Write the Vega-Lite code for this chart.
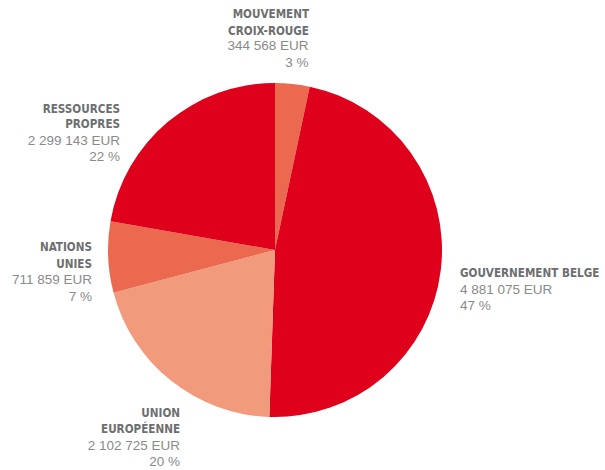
{
  "$schema": "https://vega.github.io/schema/vega-lite/v6.json",
  "width": 550,
  "height": 440,
  "autosize": {"type": "none"},
  "padding": {"left": 0, "top": 30, "right": 55, "bottom": 0},
  "background": "white",
  "view": {"stroke": null},
  "data": {
    "values": [
      {"order": 1, "key": "CR", "source": "Mouvement Croix-Rouge", "amount": 344568, "name": "MOUVEMENT\nCROIX-ROUGE", "detail": "344 568 EUR\n3 %"},
      {"order": 2, "key": "GB", "source": "Gouvernement belge", "amount": 4881075, "name": "GOUVERNEMENT BELGE", "detail": "4 881 075 EUR\n\u200a\u2002\u200a47 %"},
      {"order": 3, "key": "UE", "source": "Union européenne", "amount": 2102725, "name": "UNION\nEUROPÉENNE", "detail": "2 102 725 EUR\n20 %"},
      {"order": 4, "key": "NU", "source": "Nations Unies", "amount": 711859, "name": "NATIONS\nUNIES", "detail": "711 859 EUR\n7 %"},
      {"order": 5, "key": "RP", "source": "Ressources propres", "amount": 2299143, "name": "RESSOURCES\nPROPRES", "detail": "2 299 143 EUR\n22 %"}
    ]
  },
  "encoding": {
    "theta": {"field": "amount", "type": "quantitative", "stack": true},
    "order": {"field": "order", "type": "quantitative"}
  },
  "layer": [
    {
      "mark": {"type": "arc", "outerRadius": 167},
      "encoding": {
        "color": {
          "field": "source",
          "type": "nominal",
          "scale": {
            "domain": ["Mouvement Croix-Rouge", "Gouvernement belge", "Union européenne", "Nations Unies", "Ressources propres"],
            "range": ["#EB6A4F", "#DF001C", "#F19A7C", "#EB6A4F", "#DF001C"]
          },
          "legend": null
        }
      }
    },
    {
      "mark": {"type": "text", "radius": 180, "align": "right", "baseline": "top", "dx": 15.2, "dy": -61.7, "lineBreak": "\n", "lineHeight": 16.5, "font": "DejaVu Sans Condensed", "fontWeight": "bold", "fontSize": 11.6, "fill": "#6d6e70"},
      "encoding": {"text": {"condition": {"test": "datum.key === 'CR'", "field": "name", "type": "nominal"}, "value": ""}}
    },
    {
      "mark": {"type": "text", "radius": 180, "align": "right", "baseline": "top", "dx": 14.7, "dy": -31.5, "lineBreak": "\n", "lineHeight": 16.2, "font": "Liberation Sans", "fontSize": 13.5, "fill": "#8a8a8a"},
      "encoding": {"text": {"condition": {"test": "datum.key === 'CR'", "field": "detail", "type": "nominal"}, "value": ""}}
    },
    {
      "mark": {"type": "text", "radius": 180, "align": "left", "baseline": "top", "dx": 6.3, "dy": -4.1, "lineBreak": "\n", "lineHeight": 16.5, "font": "DejaVu Sans Condensed", "fontWeight": "bold", "fontSize": 11.6, "fill": "#6d6e70"},
      "encoding": {"text": {"condition": {"test": "datum.key === 'GB'", "field": "name", "type": "nominal"}, "value": ""}}
    },
    {
      "mark": {"type": "text", "radius": 180, "align": "left", "baseline": "top", "dx": 6.3, "dy": 11.0, "lineBreak": "\n", "lineHeight": 16.5, "font": "Liberation Sans", "fontSize": 13.5, "fill": "#8a8a8a"},
      "encoding": {"text": {"condition": {"test": "datum.key === 'GB'", "field": "detail", "type": "nominal"}, "value": ""}}
    },
    {
      "mark": {"type": "text", "radius": 180, "align": "right", "baseline": "top", "dx": 17.2, "dy": 16.9, "lineBreak": "\n", "lineHeight": 16.2, "font": "DejaVu Sans Condensed", "fontWeight": "bold", "fontSize": 11.6, "fill": "#6d6e70"},
      "encoding": {"text": {"condition": {"test": "datum.key === 'UE'", "field": "name", "type": "nominal"}, "value": ""}}
    },
    {
      "mark": {"type": "text", "radius": 180, "align": "right", "baseline": "top", "dx": 17.2, "dy": 48.0, "lineBreak": "\n", "lineHeight": 16.4, "font": "Liberation Sans", "fontSize": 13.5, "fill": "#8a8a8a"},
      "encoding": {"text": {"condition": {"test": "datum.key === 'UE'", "field": "detail", "type": "nominal"}, "value": ""}}
    },
    {
      "mark": {"type": "text", "radius": 180, "align": "right", "baseline": "top", "dx": -3.2, "dy": -15.7, "lineBreak": "\n", "lineHeight": 16.7, "font": "DejaVu Sans Condensed", "fontWeight": "bold", "fontSize": 11.6, "fill": "#6d6e70"},
      "encoding": {"text": {"condition": {"test": "datum.key === 'NU'", "field": "name", "type": "nominal"}, "value": ""}}
    },
    {
      "mark": {"type": "text", "radius": 180, "align": "right", "baseline": "top", "dx": -3.2, "dy": 15.8, "lineBreak": "\n", "lineHeight": 16.3, "font": "Liberation Sans", "fontSize": 13.5, "fill": "#8a8a8a"},
      "encoding": {"text": {"condition": {"test": "datum.key === 'NU'", "field": "detail", "type": "nominal"}, "value": ""}}
    },
    {
      "mark": {"type": "text", "radius": 180, "align": "right", "baseline": "top", "dx": -39.2, "dy": -8.5, "lineBreak": "\n", "lineHeight": 15.6, "font": "DejaVu Sans Condensed", "fontWeight": "bold", "fontSize": 11.6, "fill": "#6d6e70"},
      "encoding": {"text": {"condition": {"test": "datum.key === 'RP'", "field": "name", "type": "nominal"}, "value": ""}}
    },
    {
      "mark": {"type": "text", "radius": 180, "align": "right", "baseline": "top", "dx": -39.2, "dy": 21.6, "lineBreak": "\n", "lineHeight": 16.4, "font": "Liberation Sans", "fontSize": 13.5, "fill": "#8a8a8a"},
      "encoding": {"text": {"condition": {"test": "datum.key === 'RP'", "field": "detail", "type": "nominal"}, "value": ""}}
    }
  ]
}
